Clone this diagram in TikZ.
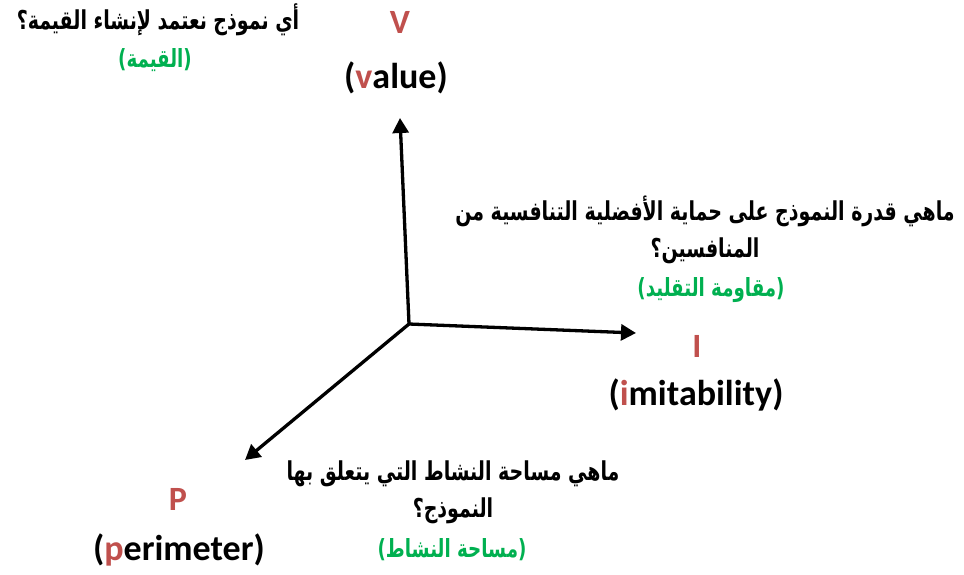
\documentclass[tikz,border=0pt]{standalone}
\usepackage{fontspec}
\usepackage{tikz}
\usetikzlibrary{arrows.meta}
\setmainfont{Carlito}
\newfontfamily\arabicfont[Script=Arabic,FakeStretch=0.73]{DejaVu Sans}
\TeXXeTstate=1
\definecolor{letterred}{HTML}{C0504D}
\definecolor{answergreen}{HTML}{00B050}
\tikzset{
  axis/.style={line width=3.3pt,-{Triangle[length=15pt,width=16pt]}},
  letter/.style={text=letterred,font=\fontsize{34}{38}\selectfont\bfseries},
  word/.style={font=\fontsize{36}{40}\selectfont\bfseries},
  question/.style={align=center,font=\arabicfont\fontsize{26}{37}\selectfont\bfseries},
  answer/.style={text=answergreen,font=\arabicfont\fontsize{25}{28}\selectfont\bfseries}
}
\begin{document}
\begin{tikzpicture}[x=1pt,y=-1pt]
\useasboundingbox (0,0) rectangle (964,574);
% axes
\coordinate (O) at (409,324);
\coordinate (vtip) at (400,118);
\coordinate (itip) at (636,333);
\coordinate (ptip) at (245,460);
\draw[axis] (O) -- (vtip);
\draw[axis] (O) -- (itip);
\draw[axis] (O) -- (ptip);
% value
\node[letter] (v) at (400,22) {V};
\node[word] (value) at (396,78) {(\textcolor{letterred}{v}alue)};
\node[question] (vq) at (158,20) {\beginR أي نموذج نعتمد لإنشاء القيمة؟\endR};
\node[answer] (va) at (155,60) {\beginR (القيمة)\endR};
% imitability
\node[letter] (i) at (697,346) {I};
\node[word] (imit) at (696,395) {(\textcolor{letterred}{i}mitability)};
\node[question] (iq) at (705,230) {\beginR ماهي قدرة النموذج على حماية الأفضلية التنافسية من\endR\\\beginR المنافسين؟\endR};
\node[answer] (ia) at (711,290) {\beginR (مقاومة التقليد)\endR};
% perimeter
\node[letter] (p) at (178,499) {P};
\node[word] (perim) at (179,550) {(\textcolor{letterred}{p}erimeter)};
\node[question] (pq) at (453,492) {\beginR ماهي مساحة النشاط التي يتعلق بها\endR\\\beginR النموذج؟\endR};
\node[answer] (pa) at (452,550) {\beginR (مساحة النشاط)\endR};
\end{tikzpicture}
\end{document}
